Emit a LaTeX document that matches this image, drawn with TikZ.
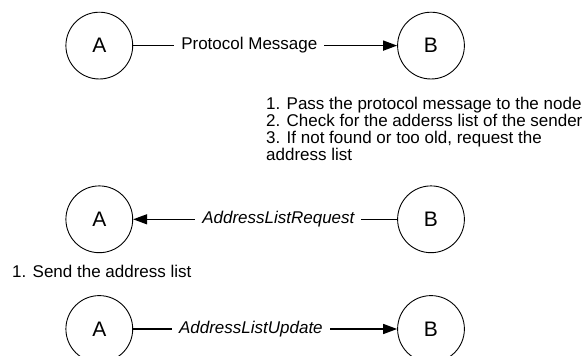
\documentclass[tikz,border=0pt]{standalone}
\usepackage{fontspec}
\setmainfont{Liberation Sans}
\usetikzlibrary{arrows.meta}

\begin{document}
\begin{tikzpicture}[x=1pt,y=-1pt,
  peer/.style={draw, circle, line width=0.9pt, minimum size=66.8pt, inner sep=0pt,
               font=\fontsize{21}{21}\selectfont},
  conn/.style={line width=1.4pt, -{Triangle[length=14pt,width=10pt]}},
  lbl/.style={fill=white, inner xsep=7pt, inner ysep=2pt,
              font=\fontsize{17}{17}\selectfont},
  note/.style={inner sep=0pt, align=left, font=\fontsize{17}{17}\selectfont}
]
\useasboundingbox (0,0) rectangle (587,356);

% first exchange: protocol message from A to B
\node[peer] (a1) at (99.3,45.6) {A};
\node[peer] (b1) at (431,45.6) {B};
\draw[conn] (a1) -- node[lbl, pos=0.44] {Protocol Message} (b1);

\node[note, anchor=north west] (steps) at (266,96.5)
  {1. Pass the protocol message to the node\\
   2. Check for the adderss list of the sender\\
   3. If not found or too old, request the\\
   address list};

% second exchange: B asks A for its address list
\node[peer] (a2) at (99.3,219.3) {A};
\node[peer] (b2) at (431,219.3) {B};
\draw[conn] (b2) -- node[lbl, pos=0.45] {\itshape AddressListRequest} (a2);

\node[note, anchor=base west] (send) at (12,277) {1. Send the address list};

% third exchange: A replies with the address list
\node[peer] (a3) at (99.3,329) {A};
\node[peer] (b3) at (431,329) {B};
\draw[conn] (a3) -- node[lbl, pos=0.446] {\itshape AddressListUpdate} (b3);
\end{tikzpicture}
\end{document}
